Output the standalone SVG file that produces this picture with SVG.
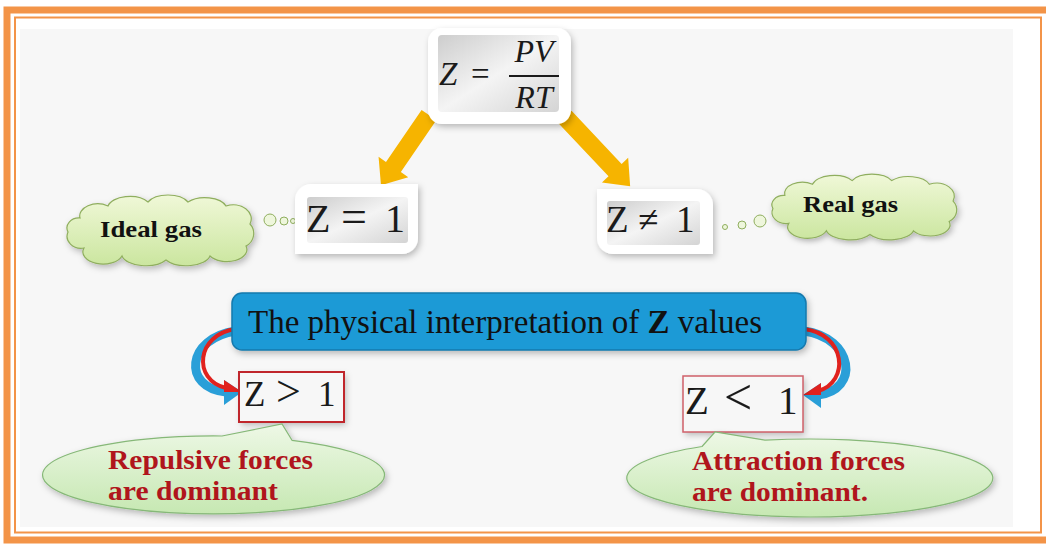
<svg xmlns="http://www.w3.org/2000/svg" width="1046" height="544" viewBox="0 0 1046 544">
<defs>
<style>
.math{font-family:"Liberation Serif","DejaVu Serif",serif;fill:#1a1a1a}
.it{font-style:italic}
.cloudtxt{font-family:"Liberation Serif",serif;font-weight:bold;font-size:24px;fill:#111}
.bub{font-family:"Liberation Serif",serif;font-weight:bold;font-size:28px;fill:#b0151c}
.frame{fill:#fff}
.inner{fill:url(#gray)}
.cloud{fill:url(#green);stroke:#8fae5e;stroke-width:1.2}
.bubble{fill:url(#bgreen);stroke:#86b878;stroke-width:1.2}
.yarrow{fill:#f6b400}
.redbox{fill:none;stroke:#c0262c;stroke-width:2}
.dot{fill:#eef6dc;stroke:#8fae5e}
</style>
<linearGradient id="gray" x1="0" y1="0" x2="1" y2="1">
<stop offset="0" stop-color="#cdcdcd"/>
<stop offset="0.5" stop-color="#f4f4f4"/>
<stop offset="1" stop-color="#d4d4d4"/>
</linearGradient>
<linearGradient id="green" x1="0" y1="0" x2="0" y2="1">
<stop offset="0" stop-color="#f0f8d8"/>
<stop offset="1" stop-color="#cbe69f"/>
</linearGradient>
<linearGradient id="bgreen" x1="0" y1="0" x2="0" y2="1">
<stop offset="0" stop-color="#eef8e6"/>
<stop offset="1" stop-color="#c6e8b2"/>
</linearGradient>
<filter id="sh" x="-20%" y="-20%" width="140%" height="140%">
<feDropShadow dx="2" dy="3" stdDeviation="3" flood-color="#000" flood-opacity="0.25"/>
</filter>
<path id="cloudshape" d="M20,22 A18,12 0 0 1 48,10 A22,12 0 0 1 88,6 A22,12 0 0 1 128,6 A22,12 0 0 1 166,10 A18,14 0 0 1 190,28 A14,14 0 0 1 186,50 A20,12 0 0 1 150,60 A24,12 0 0 1 106,64 A24,12 0 0 1 62,60 A20,12 0 0 1 24,52 A14,12 0 0 1 8,36 A12,10 0 0 1 20,22 Z"/>
</defs>

<!-- frame -->
<rect x="0" y="0" width="1046" height="544" fill="#fff"/>
<rect x="7" y="10" width="1045" height="530" fill="none" stroke="#f39448" stroke-width="7"/>
<rect x="15" y="17.5" width="1026" height="515" fill="none" stroke="#f39448" stroke-width="2"/>
<rect x="20" y="29" width="993" height="498" fill="#f7f7f7"/>

<!-- connectors -->
<g id="connectors">
<path class="yarrow" d="M0,-9 L63,-9 L63,-18 L85,0 L63,18 L63,9 L0,9 Z" transform="translate(429,115) rotate(124.4)"/>
<path class="yarrow" d="M0,-9 L73,-9 L73,-18 L95,0 L73,18 L73,9 L0,9 Z" transform="translate(565,117) rotate(46.7)"/>
<circle class="dot" cx="270" cy="220" r="6"/>
<circle class="dot" cx="284" cy="221" r="4"/>
<circle class="dot" cx="293" cy="221" r="2.5"/>
<circle class="dot" cx="725" cy="227" r="2.5"/>
<circle class="dot" cx="742" cy="225" r="4"/>
<circle class="dot" cx="760" cy="221" r="6"/>
<!-- curved arrows -->
<path d="M236,331 C186,338 182,388 226,392" fill="none" stroke="#2a9fd8" stroke-width="9"/>
<path d="M236,329 C196,334 192,380 226,388" fill="none" stroke="#e0221e" stroke-width="4"/>
<polygon points="242,392 224,380 224,405" fill="#2a9fd8"/>
<polygon points="242,392 224,380 224,392" fill="#e0221e"/>
<path d="M804,331 C854,338 860,390 818,395" fill="none" stroke="#2a9fd8" stroke-width="9"/>
<path d="M804,329 C846,334 850,382 818,391" fill="none" stroke="#e0221e" stroke-width="4"/>
<polygon points="803,395 821,383 821,408" fill="#2a9fd8"/>
<polygon points="803,395 821,383 821,395" fill="#e0221e"/>
</g>

<!-- top node -->
<g id="node-z">
<rect class="frame" x="428" y="28" width="143" height="96" rx="14" filter="url(#sh)"/>
<rect class="inner" x="438" y="35" width="121" height="77" rx="4"/>
<text class="math it" x="439" y="85" font-size="33">Z</text>
<text class="math" x="471" y="85" font-size="33">=</text>
<text class="math it" x="534" y="62" font-size="32" text-anchor="middle">PV</text>
<line x1="509" y1="76" x2="559" y2="76" stroke="#1a1a1a" stroke-width="2"/>
<text class="math it" x="534" y="108" font-size="32" text-anchor="middle">RT</text>
</g>

<!-- Z = 1 -->
<g id="node-z1">
<path class="frame" d="M311,184 H418 V238 A16,16 0 0 1 402,254 H295 V200 A16,16 0 0 1 311,184 Z" filter="url(#sh)"/>
<rect class="inner" x="307" y="197" width="101" height="46" rx="3"/>
<text class="math" font-size="40" y="232"><tspan x="306">Z</tspan><tspan x="341" font-size="46">=</tspan><tspan x="385">1</tspan></text>
</g>

<!-- Z != 1 -->
<g id="node-zne1">
<path class="frame" d="M597,189 H697 A16,16 0 0 1 713,205 V254 H613 A16,16 0 0 1 597,238 Z" filter="url(#sh)"/>
<rect class="inner" x="607" y="201" width="93" height="44" rx="3"/>
<text class="math" font-size="37" y="232"><tspan x="606">Z</tspan><tspan x="638">≠</tspan><tspan x="676">1</tspan></text>
</g>

<!-- Ideal gas cloud -->
<g id="node-ideal">
<use href="#cloudshape" class="cloud" transform="translate(60,196)" filter="url(#sh)"/>
<text class="cloudtxt" x="100" y="237" textLength="102" lengthAdjust="spacingAndGlyphs">Ideal gas</text>
</g>

<!-- Real gas cloud -->
<g id="node-real">
<use href="#cloudshape" class="cloud" transform="translate(765,175) scale(0.99,0.93)" filter="url(#sh)"/>
<text class="cloudtxt" x="803" y="212" textLength="95" lengthAdjust="spacingAndGlyphs">Real gas</text>
</g>

<!-- banner -->
<g id="node-banner">
<rect x="232" y="293" width="574" height="57" rx="10" fill="#1b9ad6" stroke="#1579ad" stroke-width="1.5" filter="url(#sh)"/>
<text x="248" y="333" font-family="Liberation Serif, serif" font-size="33" fill="#111">The physical interpretation of <tspan font-weight="bold">Z</tspan> values</text>
</g>

<!-- Z > 1 -->
<g id="node-zgt1">
<rect x="239" y="372" width="105" height="50" fill="#f7f7f7" filter="url(#sh)"/>
<rect class="redbox" x="239" y="372" width="105" height="50"/>
<text class="math" font-size="35" y="406"><tspan x="244">Z</tspan><tspan x="276" font-size="44">&gt;</tspan><tspan x="318">1</tspan></text>
</g>

<!-- Z < 1 -->
<g id="node-zlt1">
<rect x="683" y="376" width="120" height="56" fill="#f7f7f7" filter="url(#sh)"/>
<rect x="683" y="376" width="120" height="56" fill="none" stroke="#d0606a" stroke-width="1.5"/>
<text class="math" font-size="39" y="414"><tspan x="685">Z</tspan><tspan x="724" font-size="50">&lt;</tspan><tspan x="778">1</tspan></text>
</g>

<!-- Repulsive bubble -->
<g id="node-repulsive">
<path class="bubble" d="M222,436 L282,424 L292,440.3 A171,39 0 1 1 222,436 Z" filter="url(#sh)"/>
<text class="bub" x="108" y="469" textLength="205" lengthAdjust="spacingAndGlyphs">Repulsive forces</text>
<text class="bub" x="108" y="500" textLength="170" lengthAdjust="spacingAndGlyphs">are dominant</text>
</g>

<!-- Attraction bubble -->
<g id="node-attraction">
<path class="bubble" d="M702,446.5 L715,432 L765,440.2 A183,39 0 1 1 702,446.5 Z" filter="url(#sh)"/>
<text class="bub" x="692" y="470" textLength="213" lengthAdjust="spacingAndGlyphs">Attraction forces</text>
<text class="bub" x="692" y="501" textLength="176" lengthAdjust="spacingAndGlyphs">are dominant.</text>
</g>
</svg>
